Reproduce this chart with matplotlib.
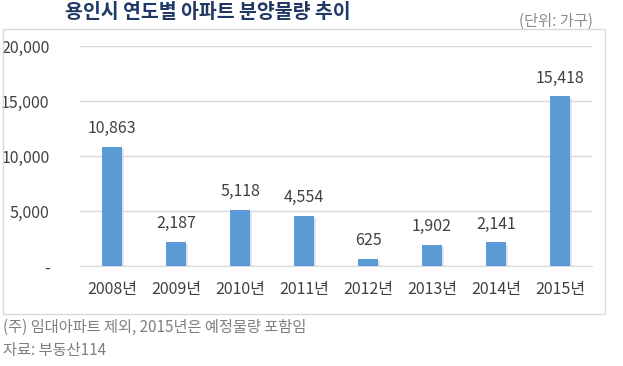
import matplotlib.pyplot as plt
from matplotlib.patches import Rectangle
import matplotlib.patheffects as pe

plt.rcParams['font.family'] = ['Noto Sans CJK KR', 'DejaVu Sans']

years = ['2008년', '2009년', '2010년', '2011년', '2012년', '2013년', '2014년', '2015년']
units = [10863, 2187, 5118, 4554, 625, 1902, 2141, 15418]
yticks = [0, 5000, 10000, 15000, 20000]
ytick_labels = ['-', '5,000', '10,000', '15,000', '20,000']

fig = plt.figure(figsize=(6.23, 3.66), dpi=100)
W, H = 623, 366

# outer frame of the chart
fig.patches.append(Rectangle((3 / W, 1 - 314 / H), 602 / W, 285 / H,
                             transform=fig.transFigure, fill=False,
                             edgecolor='#d9d9d9', linewidth=1))

ax = fig.add_axes([80 / W, 1 - 266 / H, 512 / W, 220 / H])
x = list(range(len(years)))
bars = ax.bar(x, units, width=0.31, color='#5b9bd5', zorder=3,
              path_effects=[pe.SimplePatchShadow(offset=(1.5, -1.5), shadow_rgbFace='#c8c8c8', alpha=0.5),
                            pe.Normal()])
for xi, v in zip(x, units):
    ax.text(xi, v + 900, f'{v:,}', ha='center', va='bottom', fontsize=11.5, color='#404040')

ax.set_xlim(-0.5, len(years) - 0.5)
ax.set_ylim(0, 20000)
ax.set_yticks(yticks)
ax.set_yticklabels(ytick_labels)
ax.set_xticks(x)
ax.set_xticklabels(years)
ax.tick_params(axis='both', length=0, labelsize=11.5, colors='#404040')
ax.tick_params(axis='x', pad=11)
ax.tick_params(axis='y', pad=22)
ax.grid(axis='y', color='#d9d9d9', linewidth=1, zorder=0)
for s in ['top', 'right', 'left']:
    ax.spines[s].set_visible(False)
ax.spines['bottom'].set_color('#d9d9d9')

fig.text(65 / W, 1 - 12 / H, '용인시 연도별 아파트 분양물량 추이', fontsize=14,
         fontweight='bold', color='#1f3864', va='center', ha='left')
fig.text(593 / W, 1 - 21 / H, '(단위: 가구)', fontsize=11, color='#8c8c8c',
         va='center', ha='right')
fig.text(3 / W, 1 - 327 / H, '(주) 임대아파트 제외, 2015년은 예정물량 포함임', fontsize=11,
         color='#7f7f7f', va='center', ha='left')
fig.text(3 / W, 1 - 351 / H, '자료: 부동산114', fontsize=11,
         color='#7f7f7f', va='center', ha='left')

fig.savefig('out.png', dpi=100)
